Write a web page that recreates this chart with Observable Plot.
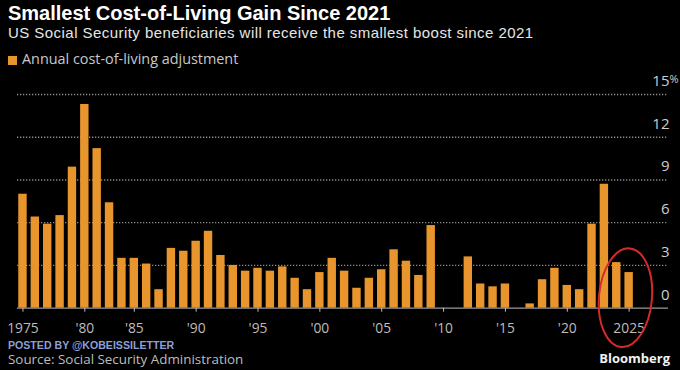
<!DOCTYPE html>
<html><head><meta charset="utf-8">
<script src="https://cdn.jsdelivr.net/npm/d3@7"></script>
<script src="https://cdn.jsdelivr.net/npm/@observablehq/plot@0.6"></script>
<style>
html,body{margin:0;padding:0;background:#000;}
#wrap{position:relative;width:680px;height:370px;background:#000;overflow:hidden;font-family:"Open Sans",sans-serif;}
.t{position:absolute;white-space:nowrap;line-height:1;}
#title{left:8px;top:3.1px;font-family:"Liberation Sans",Arial,sans-serif;font-size:20px;font-weight:700;color:#fff;}
#sub{left:8px;top:25.4px;font-family:"Liberation Sans",Arial,sans-serif;font-size:15px;letter-spacing:0.45px;color:#e6e6e6;}
#leg{left:8px;top:52px;font-size:14.4px;color:#c8c8c8;}
#leg span.sw{display:inline-block;width:9px;height:9px;background:#e8952d;margin-right:5px;vertical-align:-1px;}
#chart{position:absolute;left:0;top:70px;}
#posted{left:8px;top:340px;font-family:"Liberation Sans",Arial,sans-serif;font-size:10.6px;font-weight:700;color:#8c9fd6;}
#src{left:8px;top:353px;font-size:13.4px;color:#bdbdbd;}
#bb{right:10px;top:352px;font-size:13px;font-weight:700;color:#f2f2f2;}
</style>
</head><body>
<div id="wrap">
  <div class="t" id="title">Smallest Cost-of-Living Gain Since 2021</div>
  <div class="t" id="sub">US Social Security beneficiaries will receive the smallest boost since 2021</div>
  <div class="t" id="leg"><span class="sw"></span>Annual cost-of-living adjustment</div>
  <div id="chart"></div>
  <div class="t" id="posted">POSTED BY @KOBEISSILETTER</div>
  <div class="t" id="src">Source: Social Security Administration</div>
  <div class="t" id="bb">Bloomberg</div>
</div>
<script>
const years = [1975,1976,1977,1978,1979,1980,1981,1982,
  1984,1985,1986,1987,1988,1989,1990,1991,1992,1993,1994,1995,1996,1997,1998,1999,
  2000,2001,2002,2003,2004,2005,2006,2007,2008,2009,2010,2011,2012,2013,2014,2015,
  2016,2017,2018,2019,2020,2021,2022,2023,2024,2025];
const cola = [8.0,6.4,5.9,6.5,9.9,14.3,11.2,7.4,
  3.5,3.5,3.1,1.3,4.2,4.0,4.7,5.4,3.7,3.0,2.6,2.8,2.6,2.9,2.1,1.3,
  2.5,3.5,2.6,1.4,2.1,2.7,4.1,3.3,2.3,5.8,0,0,3.6,1.7,1.5,1.7,
  0,0.3,2.0,2.8,1.6,1.3,5.9,8.7,3.2,2.5];
const yTicks = [0,3,6,9,12,15];
const xTicks = [1975,1980,1985,1990,1995,2000,2005,2010,2015,2020,2025];

const data = years.map((y,i)=>({year:y, value:cola[i]}));
const fmtX = y => (y===1975||y===2025) ? String(y) : "'" + String(y).slice(2);

const chart = Plot.plot({
  width: 680,
  height: 280,
  marginLeft: 17,
  marginRight: 12,
  marginTop: 24,
  marginBottom: 42.3,
  style: {background:"transparent", fontFamily:"'Open Sans', sans-serif", overflow:"visible"},
  x: {type:"band", domain: years, range:[14.3, 636.8], padding:0.32, round:false, label:null},
  y: {domain:[0,15], label:null},
  marks: [
    Plot.ruleY(yTicks.filter(d=>d>0), {stroke:"#8a8a8a", strokeWidth:1.3, strokeDasharray:"1.3,1.7"}),
    Plot.barY(data, {x:"year", y:"value", fill:"#e8952d"}),
    Plot.ruleY([0], {stroke:"#9a9a9a", strokeWidth:1.2}),
    Plot.axisX({ticks:xTicks, tickFormat:fmtX, tickSize:4, tickPadding:11, fontSize:13.8, color:"#bdbdbd", label:null}),
    Plot.axisY({anchor:"right", ticks:yTicks, tickSize:0, tickPadding:0, dx:1, dy:-13.5, textAnchor:"end", fontSize:15, color:"#cfcfcf", label:null}),
    Plot.text([15], {y:d=>d, text:()=>"%", frameAnchor:"right", textAnchor:"start", dx:1, dy:-15, fontSize:11, fill:"#cfcfcf"})
  ]
});
document.getElementById("chart").appendChild(chart);

// red annotation ellipse around the two latest bars
const xs = chart.scale("x"), ys = chart.scale("y");
const cx = xs.apply(2025) + 1, cy = ys.apply(0) - 10;
d3.select(chart).append("ellipse")
  .attr("cx", cx).attr("cy", cy).attr("rx", 26.5).attr("ry", 49.5)
  .attr("transform", `rotate(5 ${cx} ${cy})`)
  .attr("fill","none").attr("stroke","#d62a2a").attr("stroke-width",2);
</script>
</body></html>
